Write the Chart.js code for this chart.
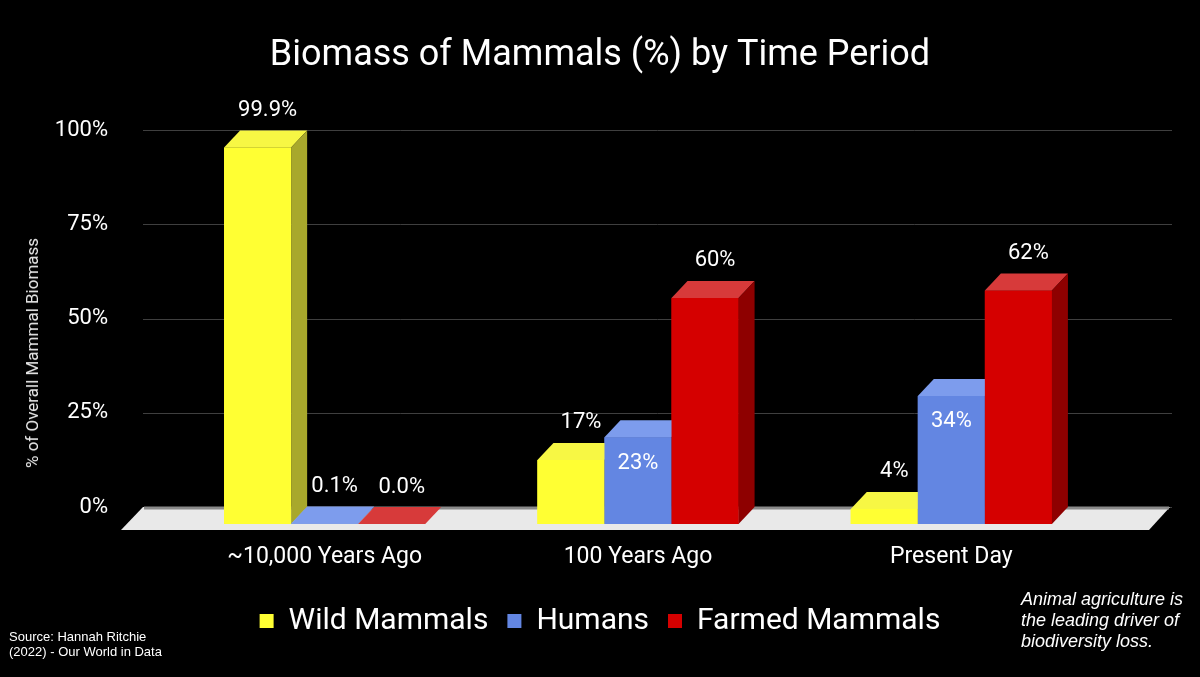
<!DOCTYPE html>
<html>
<head>
<meta charset="utf-8">
<title>Biomass of Mammals</title>
<script src="https://cdn.jsdelivr.net/npm/chart.js@4.4.1/dist/chart.umd.min.js"></script>
<style>
  html, body { margin: 0; padding: 0; background: #000; }
  #wrap { position: relative; width: 1200px; height: 677px; background: #000; overflow: hidden; }
  #wrap canvas { position: absolute; left: 0; top: 0; }
  #y-title {
    position: absolute; left: 32px; top: 353px;
    transform: translate(-50%, -50%) rotate(-90deg);
    white-space: nowrap; color: #e6e6e6;
    font: 17px Roboto, sans-serif;
  }
  #source {
    position: absolute; left: 9px; top: 629px;
    color: #fff; font: 13px/15px "Liberation Sans", Arial, sans-serif;
  }
  #remark {
    position: absolute; left: 1021px; top: 589px;
    color: #fff; font: italic 18px/21px "Liberation Sans", Arial, sans-serif;
  }
</style>
</head>
<body>
<div id="wrap">
  <canvas id="biomass-chart" width="1200" height="677"></canvas>
  <div id="y-title">% of Overall Mammal Biomass</div>
  <div id="source">Source: Hannah Ritchie<br>(2022) - Our World in Data</div>
  <div id="remark">Animal agriculture is<br>the leading driver of<br>biodiversity loss.</div>
</div>
<script>
// data
const periods = ["~10,000 Years Ago", "100 Years Ago", "Present Day"];
const wildMammals = [99.9, 17, 4];
const humans = [0.1, 23, 34];
const farmedMammals = [0.0, 60, 62];
const yTicks = [0, 25, 50, 75, 100];
const labelDecimals = [1, 0, 0];

// depth of the fake 3d look
const DX = 16;
const DY = 17;

Chart.defaults.font.family = "Roboto";
Chart.defaults.color = "#fff";

function poly(ctx, pts) {
  ctx.beginPath();
  ctx.moveTo(pts[0][0], pts[0][1]);
  for (let i = 1; i < pts.length; i++) ctx.lineTo(pts[i][0], pts[i][1]);
  ctx.closePath();
  ctx.fill();
}

const depth3d = {
  id: "depth3d",
  beforeDatasetsDraw(chart) {
    const { ctx, chartArea, scales } = chart;
    const y0 = scales.y.getPixelForValue(0);
    ctx.save();
    // grid lines sit on the back wall
    ctx.strokeStyle = "#3f3f3f";
    ctx.lineWidth = 1;
    scales.y.ticks.forEach((t) => {
      const py = Math.round(scales.y.getPixelForValue(t.value) - DY) + 0.5;
      ctx.beginPath();
      ctx.moveTo(chartArea.left - 25, py);
      ctx.lineTo(chartArea.right + 64, py);
      ctx.stroke();
    });
    // floor
    ctx.fillStyle = "#e9e9e9";
    poly(ctx, [
      [chartArea.left - 47, y0 + 6],
      [chartArea.right + 41, y0 + 6],
      [chartArea.right + 62, y0 - DY],
      [chartArea.left - 25, y0 - DY],
    ]);
    ctx.strokeStyle = "#8a8a8a";
    ctx.lineWidth = 3;
    ctx.beginPath();
    ctx.moveTo(chartArea.left - 24, y0 - DY + 1);
    ctx.lineTo(chartArea.right + 61, y0 - DY + 1);
    ctx.stroke();
    ctx.restore();
  },
  afterDatasetsDraw(chart) {
    const ctx = chart.ctx;
    // chart.js paints datasets last-to-first, so repaint every bar
    // left-to-right with its top and side faces
    chart.data.datasets.forEach((ds, i) => {
      chart.getDatasetMeta(i).data.forEach((bar) => {
        bar.draw(ctx);
        const { x, y, base, width } = bar.getProps(["x", "y", "base", "width"], true);
        const l = x - width / 2;
        const r = x + width / 2;
        ctx.save();
        ctx.fillStyle = ds.topColor;
        poly(ctx, [[l, y], [l + DX, y - DY], [r + DX, y - DY], [r, y]]);
        ctx.fillStyle = ds.sideColor;
        poly(ctx, [[r, y], [r + DX, y - DY], [r + DX, base - DY], [r, base]]);
        ctx.restore();
      });
    });

    // value labels
    ctx.save();
    ctx.fillStyle = "#fff";
    ctx.font = "22px Roboto";
    ctx.textAlign = "center";
    ctx.textBaseline = "middle";
    chart.data.datasets.forEach((ds, i) => {
      chart.getDatasetMeta(i).data.forEach((bar, j) => {
        const value = ds.data[j];
        const text = value.toFixed(labelDecimals[j]) + "%";
        const { x, y } = bar.getProps(["x", "y"], true);
        if (i === 1 && value > 10) {
          ctx.fillText(text, x, y + 26);
        } else {
          ctx.fillText(text, x + 10, y - DY - 20);
        }
      });
    });
    ctx.restore();
  },
};

new Chart(document.getElementById("biomass-chart"), {
  type: "bar",
  data: {
    labels: periods,
    datasets: [
      {
        label: "Wild Mammals",
        data: wildMammals,
        backgroundColor: "#ffff33",
        topColor: "#f7f744",
        sideColor: "#a8a82c",
      },
      {
        label: "Humans",
        data: humans,
        backgroundColor: "#6386e2",
        topColor: "#7d9ced",
        sideColor: "#3d5ca8",
      },
      {
        label: "Farmed Mammals",
        data: farmedMammals,
        backgroundColor: "#d50000",
        topColor: "#d73a3a",
        sideColor: "#8e0000",
      },
    ],
  },
  options: {
    responsive: false,
    animation: false,
    events: [],
    layout: { padding: { top: 0, left: 0, right: 0, bottom: 31 } },
    datasets: {
      bar: {
        borderWidth: 0,
        barPercentage: 1.0,
        categoryPercentage: 0.642,
      },
    },
    scales: {
      x: {
        grid: { display: false, drawTicks: false },
        border: { display: false },
        ticks: { color: "#fff", font: { size: 23 }, padding: 19 },
        afterFit(scale) {
          scale.height = 63;
        },
      },
      y: {
        min: 0,
        max: 100,
        grid: { display: false, drawTicks: false },
        border: { display: false },
        afterBuildTicks(scale) {
          scale.ticks = yTicks.map((v) => ({ value: v }));
        },
        ticks: {
          color: "#fff",
          font: { size: 22 },
          padding: 60,
          labelOffset: -DY,
          callback: (v) => v + "%",
        },
        afterFit(scale) {
          scale.width = 168;
        },
      },
      yRight: {
        position: "right",
        display: true,
        grid: { display: false },
        border: { display: false },
        ticks: { display: false },
        afterFit(scale) {
          scale.width = 92;
        },
      },
    },
    plugins: {
      title: {
        display: true,
        text: "Biomass of Mammals (%) by Time Period",
        color: "#fff",
        font: { size: 36, weight: "normal" },
        padding: { top: 34, bottom: 70 },
      },
      legend: {
        position: "bottom",
        labels: {
          color: "#fff",
          font: { size: 30 },
          boxWidth: 14,
          boxHeight: 14,
          padding: 19,
        },
      },
      tooltip: { enabled: false },
    },
  },
  plugins: [depth3d],
});
</script>
</body>
</html>
